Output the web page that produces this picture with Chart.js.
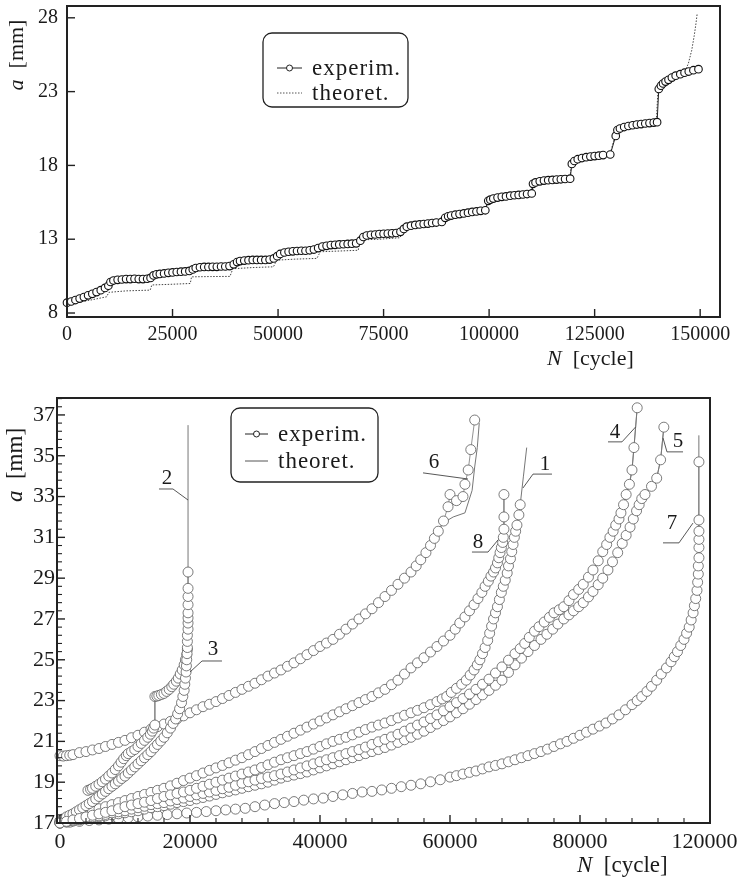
<!DOCTYPE html>
<html>
<head>
<meta charset="utf-8">
<script src="https://cdn.jsdelivr.net/npm/chart.js@4.4.0/dist/chart.umd.min.js"></script>
<style>
  html, body { margin: 0; padding: 0; background: #fff; }
  #wrap { position: relative; width: 740px; height: 878px; overflow: hidden; }
  #topChart { position: absolute; left: 0; top: 0; }
  #bottomChart { position: absolute; left: 0; top: 380px; }
</style>
</head>
<body>
<div id="wrap">
  <canvas id="topChart" width="740" height="375"></canvas>
  <canvas id="bottomChart" width="740" height="498"></canvas>
</div>
<script>
// ---- data : top chart (crack length a [mm] vs N [cycle]) ----
const legendNames = ['experim.', 'theoret.'];

const topXTicks = [0, 25000, 50000, 75000, 100000, 125000, 150000];
const topYTicks = [8, 13, 18, 23, 28];

const topExperim = [
  [0,8.7],[1000,8.78],[2000,8.88],[3000,8.98],[4000,9.08],[5000,9.2],[6000,9.3],[7000,9.42],[8000,9.55],[9000,9.7],
  [9800,9.85],[10300,10.1],[11000,10.2],[12000,10.25],[13000,10.27],[14000,10.3],[15000,10.3],[16000,10.32],[17000,10.3],
  [18000,10.3],[19000,10.32],[19800,10.38],[20500,10.55],[21200,10.62],[22000,10.65],[23000,10.68],[24000,10.72],
  [25000,10.75],[26000,10.78],[27000,10.8],[28000,10.82],[29000,10.85],[29800,10.95],[30500,11.05],[31500,11.1],
  [32500,11.12],[33500,11.12],[34500,11.13],[35500,11.13],[36500,11.15],[37500,11.15],[38500,11.18],[39500,11.3],
  [40300,11.45],[41000,11.52],[42000,11.55],[43000,11.58],[44000,11.6],[45000,11.6],[46000,11.6],[47000,11.6],
  [48000,11.62],[49000,11.7],[49800,11.85],[50500,12.0],[51500,12.1],[52500,12.15],[53500,12.18],[54500,12.2],
  [55500,12.22],[56500,12.22],[57500,12.25],[58500,12.3],[59500,12.4],[60500,12.5],[61500,12.55],[62500,12.6],
  [63500,12.62],[64500,12.65],[65500,12.66],[66500,12.68],[67500,12.7],[68500,12.72],[69500,12.9],[70200,13.15],
  [71000,13.25],[72000,13.3],[73000,13.32],[74000,13.35],[75000,13.37],[76000,13.38],[77000,13.4],[78000,13.42],
  [79000,13.5],[79800,13.7],[80500,13.85],[81500,13.92],[82500,13.97],[83500,14.0],[84500,14.03],[85500,14.06],
  [86500,14.1],[87500,14.13],[88800,14.17],[89600,14.45],[90300,14.55],[91000,14.6],[92000,14.66],[93000,14.7],
  [94000,14.75],[95000,14.8],[96000,14.85],[97000,14.88],[98000,14.92],[99100,14.96],[99800,15.6],[100300,15.68],
  [101000,15.75],[102000,15.82],[103000,15.87],[104000,15.9],[105000,15.95],[106000,15.98],[107000,16.0],
  [108000,16.03],[109000,16.06],[110100,16.1],[110400,16.75],[111000,16.85],[112000,16.92],[113000,16.97],
  [114000,17.0],[115000,17.02],[116000,17.04],[117000,17.06],[118000,17.08],[119200,17.1],[119600,18.1],
  [120200,18.3],[121000,18.42],[122000,18.5],[123000,18.56],[124000,18.6],[125000,18.63],[126000,18.66],
  [127000,18.7],[128700,18.74],[130000,20.0],[130400,20.4],[131000,20.5],[132000,20.6],[133000,20.67],
  [134000,20.72],[135000,20.77],[136000,20.8],[137000,20.84],[138000,20.87],[139000,20.9],[139800,20.93],
  [140200,23.18],[140700,23.4],[141200,23.55],[141800,23.68],[142500,23.8],[143300,23.95],[144200,24.08],
  [145300,24.18],[146300,24.28],[147300,24.36],[148400,24.45],[149600,24.52]
];

const topTheoret = [
  [0,8.6],[3000,8.75],[6000,8.9],[9400,9.1],[9900,9.4],[14000,9.5],[19700,9.55],[20100,9.9],[25000,9.95],
  [29200,10.0],[29500,10.45],[34000,10.47],[38600,10.48],[39300,11.0],[44000,11.08],[48900,11.13],[49700,11.58],
  [54000,11.65],[59200,11.7],[60000,12.15],[64500,12.2],[69000,12.25],[69400,12.95],[74000,13.0],[78900,13.1],
  [79600,13.6],[80400,13.8],[84500,13.98],[88900,14.12],[89500,14.45],[94000,14.7],[99000,14.92],[99700,15.55],
  [104000,15.85],[110000,16.05],[110300,16.7],[114000,16.95],[119100,17.05],[119500,18.05],[124000,18.55],
  [128600,18.7],[130100,20.3],[135000,20.72],[139600,20.9],[140000,23.1],[142500,23.75],[145300,24.2],
  [146500,24.45],[147200,24.9],[148000,25.8],[148600,26.8],[149000,27.6],[149300,28.3]
];

// ---- data : bottom chart (eight specimens 1..8) ----
const botXTicks = [0, 20000, 40000, 60000, 80000, 100000];
const botXTickLabels = ['0', '20000', '40000', '60000', '80000', '120000'];
const botYTicks = [17, 19, 21, 23, 25, 27, 29, 31, 33, 35, 37];

const curve1 = [
  [0,17.0],[1000,17.08],[2000,17.15],[3000,17.22],[4000,17.3],[5000,17.38],[6000,17.45],[7000,17.52],[8000,17.6],
  [9000,17.7],[10000,17.8],[11000,17.88],[12000,17.95],[13000,18.02],[14000,18.1],[15000,18.2],[16000,18.3],
  [17000,18.38],[18000,18.45],[19000,18.52],[20000,18.6],[21000,18.7],[22000,18.8],[23000,18.9],[24000,19.0],
  [25000,19.1],[26000,19.2],[27000,19.3],[28000,19.4],[29000,19.5],[30000,19.6],[31000,19.72],[32000,19.85],
  [33000,19.98],[34000,20.1],[35000,20.2],[36000,20.3],[37000,20.4],[38000,20.5],[39000,20.62],[40000,20.75],
  [41000,20.88],[42000,21.0],[43000,21.1],[44000,21.2],[45000,21.32],[46000,21.45],[47000,21.58],[48000,21.7],
  [49000,21.8],[50000,21.9],[51000,22.02],[52000,22.15],[53000,22.28],[54000,22.4],[55000,22.52],[56000,22.65],
  [57000,22.8],[58000,22.95],[58800,23.08],[59500,23.2],[60200,23.4],[61000,23.6],[61800,23.8],[62500,24.0],
  [63100,24.25],[63700,24.5],[64200,24.75],[64600,25.0],[65000,25.3],[65400,25.6],[65800,25.95],[66100,26.3],
  [66400,26.65],[66700,27.0],[67000,27.3],[67300,27.6],[67600,27.95],[67900,28.3],[68200,28.6],[68500,28.9],
  [68800,29.25],[69000,29.6],[69300,29.95],[69500,30.3],[69700,30.65],[69900,31.0],[70100,31.3],[70300,31.6],
  [70600,32.1],[70800,32.6]
];
const tail1 = [[71300,34.0],[71800,35.4]];

const curve2 = [
  [0,17.1],[500,17.2],[1000,17.3],[1500,17.38],[2000,17.45],[2500,17.55],[3000,17.65],[3500,17.75],[4000,17.85],
  [4500,17.95],[5000,18.05],[5500,18.18],[6000,18.3],[6500,18.42],[7000,18.55],[7500,18.68],[8000,18.8],[8500,18.92],
  [9000,19.05],[9500,19.18],[10000,19.3],[10500,19.45],[11000,19.6],[11500,19.75],[12000,19.9],[12500,20.05],
  [13000,20.2],[13500,20.35],[14000,20.5],[14500,20.68],[15000,20.85],[15500,21.02],[16000,21.2],[16500,21.42],
  [17000,21.65],[17400,21.88],[17800,22.1],[18100,22.35],[18400,22.6],[18700,22.9],[18900,23.2],[19100,23.5],
  [19200,23.8],[19300,24.1],[19400,24.4],[19450,24.7],[19500,25.0],[19550,25.3],[19600,25.6],[19600,25.9],
  [19600,26.2],[19700,26.5],[19700,26.8],[19700,27.05],[19700,27.3],[19700,27.7],[19700,28.1],[19700,28.5],[19700,29.3]
];
const tail2 = [[19700,36.5]];

const curve3 = [
  [4300,18.6],[4700,18.65],[5000,18.7],[5500,18.8],[6000,18.9],[6500,19.02],[7000,19.15],[7500,19.3],[8000,19.45],
  [8500,19.62],[9000,19.8],[9400,19.98],[9800,20.15],[10200,20.3],[10500,20.4],[11000,20.5],[11500,20.6],
  [12000,20.75],[12500,20.9],[13000,21.05],[13500,21.2],[13900,21.35],[14200,21.5],[14400,21.65],[14600,21.8],
  [14600,23.2],[14900,23.22],[15200,23.25],[15600,23.3],[16000,23.35],[16400,23.45],[16800,23.55],[17200,23.68],
  [17500,23.8],[17900,23.95],[18200,24.1],[18500,24.3],[18800,24.5],[19100,24.75],[19300,25.0],[19500,25.25],[19600,25.5]
];
const theo3 = [
  [4300,18.6],[7000,19.15],[9800,20.15],[12500,20.9],[14600,21.9],[14600,23.2],[17500,23.8],[19300,25.0],[19700,25.7]
];

const curve4 = [
  [0,17.0],[1000,17.05],[2000,17.1],[3000,17.18],[4000,17.25],[5000,17.3],[6000,17.35],[7000,17.42],[8000,17.5],
  [9000,17.55],[10000,17.6],[11000,17.68],[12000,17.75],[13000,17.82],[14000,17.9],[15000,17.95],[16000,18.0],
  [17000,18.08],[18000,18.15],[19000,18.22],[20000,18.3],[21000,18.38],[22000,18.45],[23000,18.52],[24000,18.6],
  [25000,18.68],[26000,18.75],[27000,18.85],[28000,18.95],[29000,19.02],[30000,19.1],[31000,19.18],[32000,19.25],
  [33000,19.32],[34000,19.4],[35000,19.5],[36000,19.6],[37000,19.7],[38000,19.8],[39000,19.9],[40000,20.0],
  [41000,20.1],[42000,20.2],[43000,20.3],[44000,20.4],[45000,20.5],[46000,20.6],[47000,20.72],[48000,20.85],
  [49000,20.98],[50000,21.1],[51000,21.22],[52000,21.35],[53000,21.5],[54000,21.65],[55000,21.8],[56000,21.95],
  [57000,22.12],[58000,22.3],[59000,22.5],[60000,22.7],[61000,22.9],[62000,23.1],[63000,23.32],[64000,23.55],
  [65000,23.8],[66000,24.05],[67000,24.35],[68000,24.65],[69000,24.98],[70000,25.3],[70800,25.55],[71500,25.8],
  [72200,26.1],[73000,26.4],[73700,26.62],[74500,26.85],[75300,27.08],[76000,27.3],[76800,27.45],[77500,27.6],
  [78300,27.9],[79000,28.2],[79800,28.45],[80500,28.7],[81300,29.05],[82000,29.4],[82800,29.85],[83500,30.3],
  [84100,30.65],[84600,31.0],[85100,31.3],[85500,31.6],[86000,31.9],[86300,32.2],[86700,32.6],[87100,33.1],
  [87600,33.6],[88000,34.3],[88300,35.4],[88800,37.35]
];

const curve5 = [
  [0,17.0],[1000,17.05],[2000,17.1],[3000,17.15],[4000,17.2],[5000,17.25],[6000,17.3],[7000,17.35],[8000,17.4],
  [9000,17.45],[10000,17.5],[11000,17.55],[12000,17.6],[13000,17.68],[14000,17.75],[15000,17.8],[16000,17.85],
  [17000,17.92],[18000,18.0],[19000,18.05],[20000,18.1],[21000,18.18],[22000,18.25],[23000,18.32],[24000,18.4],
  [25000,18.48],[26000,18.55],[27000,18.62],[28000,18.7],[29000,18.78],[30000,18.85],[31000,18.92],[32000,19.0],
  [33000,19.1],[34000,19.2],[35000,19.28],[36000,19.35],[37000,19.42],[38000,19.5],[39000,19.6],[40000,19.7],
  [41000,19.8],[42000,19.9],[43000,20.0],[44000,20.1],[45000,20.2],[46000,20.3],[47000,20.4],[48000,20.5],
  [49000,20.6],[50000,20.7],[51000,20.82],[52000,20.95],[53000,21.08],[54000,21.2],[55000,21.35],[56000,21.5],
  [57000,21.68],[58000,21.85],[59000,22.02],[60000,22.2],[61000,22.4],[62000,22.6],[63000,22.82],[64000,23.05],
  [65000,23.28],[66000,23.5],[67000,23.75],[68000,24.0],[69000,24.38],[70000,24.75],[71000,25.08],[72000,25.4],
  [73000,25.7],[74000,26.0],[74900,26.25],[75800,26.5],[76600,26.75],[77500,27.0],[78300,27.2],[79000,27.4],
  [79800,27.6],[80500,27.8],[81300,28.08],[82000,28.35],[82800,28.68],[83500,29.0],[84300,29.4],[85000,29.8],
  [85800,30.25],[86500,30.7],[87100,31.1],[87700,31.5],[88200,31.9],[88700,32.3],[89100,32.6],[89500,32.9],
  [90000,33.1],[91000,33.5],[91800,33.9],[92400,34.8],[92900,36.4]
];

const curve6 = [
  [0,20.3],[500,20.28],[1000,20.3],[1500,20.32],[2000,20.35],[3000,20.45],[4000,20.5],[5000,20.58],[6000,20.65],
  [7000,20.75],[8000,20.85],[9000,20.95],[10000,21.05],[11000,21.18],[12000,21.3],[13000,21.45],[14000,21.6],
  [15000,21.72],[16000,21.85],[17000,21.98],[18000,22.1],[19000,22.25],[20000,22.4],[21000,22.55],[22000,22.7],
  [23000,22.82],[24000,22.95],[25000,23.1],[26000,23.25],[27000,23.4],[28000,23.55],[29000,23.7],[30000,23.85],
  [31000,24.02],[32000,24.2],[33000,24.35],[34000,24.5],[35000,24.68],[36000,24.85],[37000,25.05],[38000,25.25],
  [39000,25.45],[40000,25.65],[41000,25.82],[42000,26.0],[43000,26.25],[44000,26.5],[45000,26.75],[46000,27.0],
  [47000,27.25],[48000,27.5],[49000,27.8],[50000,28.1],[51000,28.4],[52000,28.7],[53000,29.0],[54000,29.3],
  [54800,29.6],[55500,29.9],[56300,30.25],[57000,30.6],[57600,30.95],[58200,31.3],[59000,31.8],[59700,32.5],
  [60000,33.1],[61000,32.8],[62000,33.0],[62300,33.6],[62800,34.3],[63200,35.3],[63800,36.75]
];
const theo6 = [
  [0,20.3],[10000,21.05],[20000,22.4],[30000,23.85],[40000,25.65],[46000,27.0],[50000,28.1],[54000,29.3],
  [57000,30.6],[58900,31.7],[60500,32.0],[62300,32.2],[63400,33.3],[63800,34.45],[64200,35.4],[64500,36.6]
];

const curve7 = [
  [0,17.0],[1500,17.04],[3000,17.08],[4500,17.12],[6000,17.15],[7500,17.19],[9000,17.22],[10500,17.26],[12000,17.3],
  [13500,17.34],[15000,17.38],[16500,17.41],[18000,17.45],[19500,17.49],[21000,17.52],[22500,17.56],[24000,17.6],
  [25500,17.64],[27000,17.68],[28500,17.72],[30000,17.8],[31500,17.88],[33000,17.95],[34500,18.0],[36000,18.05],
  [37500,18.12],[39000,18.18],[40500,18.22],[42000,18.3],[43500,18.38],[45000,18.45],[46500,18.52],[48000,18.55],
  [49500,18.62],[51000,18.7],[52500,18.78],[54000,18.85],[55500,18.92],[57000,19.02],[58500,19.12],[60000,19.25],
  [61000,19.32],[62000,19.4],[63000,19.48],[64000,19.55],[65000,19.65],[66000,19.75],[67000,19.82],[68000,19.9],
  [69000,20.0],[70000,20.1],[71000,20.2],[72000,20.3],[73000,20.4],[74000,20.5],[75000,20.62],[76000,20.75],
  [77000,20.88],[78000,21.0],[79000,21.15],[80000,21.3],[81000,21.45],[82000,21.6],[83000,21.75],[84000,21.9],
  [85000,22.1],[86000,22.3],[87000,22.55],[88000,22.8],[88800,23.0],[89500,23.2],[90300,23.45],[91000,23.7],
  [91800,24.0],[92500,24.3],[93300,24.6],[94000,24.9],[94500,25.15],[95000,25.4],[95500,25.7],[96000,26.0],
  [96400,26.3],[96800,26.6],[97100,26.95],[97400,27.3],[97600,27.65],[97800,28.0],[98000,28.4],[98100,28.8],
  [98200,29.2],[98200,29.6],[98300,30.0],[98300,30.5],[98300,30.9],[98300,31.3],[98300,31.85],[98300,34.7]
];
const tail7 = [[98300,36.0]];

const curve8 = [
  [0,17.1],[1000,17.2],[2000,17.3],[3000,17.4],[4000,17.5],[5000,17.6],[6000,17.7],[7000,17.8],[8000,17.9],
  [9000,18.0],[10000,18.1],[11000,18.2],[12000,18.3],[13000,18.4],[14000,18.5],[15000,18.6],[16000,18.7],
  [17000,18.82],[18000,18.95],[19000,19.08],[20000,19.2],[21000,19.32],[22000,19.45],[23000,19.58],[24000,19.7],
  [25000,19.82],[26000,19.95],[27000,20.08],[28000,20.2],[29000,20.35],[30000,20.5],[31000,20.65],[32000,20.8],
  [33000,20.95],[34000,21.1],[35000,21.25],[36000,21.4],[37000,21.55],[38000,21.7],[39000,21.85],[40000,22.0],
  [41000,22.15],[42000,22.3],[43000,22.45],[44000,22.6],[45000,22.75],[46000,22.9],[47000,23.05],[48000,23.2],
  [49000,23.38],[50000,23.55],[51000,23.78],[52000,24.0],[53000,24.3],[54000,24.6],[55000,24.85],[56000,25.1],
  [57000,25.38],[58000,25.65],[59000,25.92],[60000,26.2],[60800,26.5],[61500,26.8],[62300,27.1],[63000,27.4],
  [63700,27.7],[64300,28.0],[64900,28.3],[65400,28.6],[65900,28.85],[66300,29.1],[66700,29.3],[67000,29.5],
  [67300,29.75],[67500,30.0],[67700,30.25],[67900,30.5],[68100,30.75],[68200,31.0],[68300,31.4],[68300,32.0],[68300,33.1]
];

// curve labels 1..8 : text position and leader line, in data units
const curveLabels = [
  { text: '2', at: [16460, 33.9], lead: [[15230, 33.37], [17380, 33.37], [19700, 32.83]] },
  { text: '3', at: [23540, 25.48], lead: [[24920, 24.94], [21850, 24.94], [20000, 24.4]] },
  { text: '6', at: [57540, 34.65], lead: [[55850, 34.16], [62770, 33.86]] },
  { text: '8', at: [64310, 30.73], lead: [[63380, 30.28], [65850, 30.28], [67380, 30.87]] },
  { text: '1', at: [74620, 34.55], lead: [[75690, 34.1], [72770, 34.1], [71230, 33.42]] },
  { text: '4', at: [85380, 36.12], lead: [[84310, 35.68], [86460, 35.68], [88560, 36.41]] },
  { text: '5', at: [95080, 35.68], lead: [[95850, 35.19], [93380, 35.19], [92770, 35.87]] },
  { text: '7', at: [94150, 31.7], lead: [[92770, 30.73], [95230, 30.73], [97380, 31.7]] }
];

const SERIF = '"Liberation Serif", "DejaVu Serif", serif';
const toXY = arr => arr.map(p => ({ x: p[0], y: p[1] }));

// draws text made of parts (some italic) starting at x
function drawParts(ctx, parts, x, y, size) {
  parts.forEach(p => {
    ctx.font = (p.italic ? 'italic ' : '') + size + 'px ' + SERIF;
    ctx.fillText(p.t, x, y);
    x += ctx.measureText(p.t).width;
  });
}
function partsWidth(ctx, parts, size) {
  let w = 0;
  parts.forEach(p => {
    ctx.font = (p.italic ? 'italic ' : '') + size + 'px ' + SERIF;
    w += ctx.measureText(p.t).width;
  });
  return w;
}

function drawLegend(ctx, L) {
  ctx.save();
  ctx.beginPath();
  ctx.roundRect(L.x, L.y, L.w, L.h, 9);
  ctx.fillStyle = '#fff';
  ctx.fill();
  ctx.lineWidth = 1.3;
  ctx.strokeStyle = '#222';
  ctx.stroke();
  legendNames.forEach((name, i) => {
    const base = L.rows[i];
    const my = base - 7;
    ctx.beginPath();
    ctx.setLineDash(i === 1 ? L.theoDash : []);
    ctx.lineWidth = 1;
    ctx.strokeStyle = i === 0 ? '#222' : '#555';
    ctx.moveTo(L.symX0, my);
    ctx.lineTo(L.symX1, my);
    ctx.stroke();
    ctx.setLineDash([]);
    if (i === 0) {
      ctx.beginPath();
      ctx.arc((L.symX0 + L.symX1) / 2, my, 3, 0, Math.PI * 2);
      ctx.fillStyle = '#fff';
      ctx.fill();
      ctx.stroke();
    }
    ctx.fillStyle = '#1a1a1a';
    ctx.font = L.size + 'px ' + SERIF;
    ctx.letterSpacing = '1px';
    ctx.textBaseline = 'alphabetic';
    ctx.textAlign = 'left';
    ctx.fillText(name, L.textX, base);
    ctx.letterSpacing = '0px';
  });
  ctx.restore();
}

// frame, inward ticks, legend, axis titles, curve labels
const paperPlugin = {
  id: 'paper',
  afterDraw(chart, args, o) {
    const ctx = chart.ctx, a = chart.chartArea;
    const xs = chart.scales.x, ys = chart.scales.y;
    ctx.save();
    ctx.strokeStyle = '#222';
    const line = (x1, y1, x2, y2) => { ctx.beginPath(); ctx.moveTo(x1, y1); ctx.lineTo(x2, y2); ctx.stroke(); };
    const isMajor = (ticks, v, eps) => ticks.some(t => Math.abs(t.value - v) < eps);

    ctx.lineWidth = 1.4;
    xs.ticks.forEach(t => { const x = xs.getPixelForValue(t.value); line(x, a.bottom, x, a.bottom - o.majorLen); });
    ys.ticks.forEach(t => { const y = ys.getPixelForValue(t.value); line(a.left, y, a.left + o.majorLen, y); });
    ctx.lineWidth = 1.1;
    if (o.minorX) {
      for (let i = 0; ; i++) {
        const v = i * o.minorX;
        if (v > xs.max) break;
        if (!isMajor(xs.ticks, v, 1)) { const x = xs.getPixelForValue(v); line(x, a.bottom, x, a.bottom - o.minorLen); }
      }
    }
    if (o.minorY) {
      for (let i = 0; ; i++) {
        const v = o.minorYStart + i * o.minorY;
        if (v > ys.max) break;
        if (!isMajor(ys.ticks, v, 0.01)) { const y = ys.getPixelForValue(v); line(a.left, y, a.left + o.minorLen, y); }
      }
    }
    ctx.lineWidth = 2;
    ctx.strokeRect(a.left, a.top, a.right - a.left, a.bottom - a.top);

    // curve labels
    if (o.labels) {
      ctx.lineWidth = 0.9;
      ctx.strokeStyle = '#444';
      o.labels.forEach(lb => {
        ctx.beginPath();
        lb.lead.forEach((p, k) => {
          const px = xs.getPixelForValue(p[0]), py = ys.getPixelForValue(p[1]);
          if (k === 0) ctx.moveTo(px, py); else ctx.lineTo(px, py);
        });
        ctx.stroke();
        ctx.fillStyle = '#1a1a1a';
        ctx.font = o.labelSize + 'px ' + SERIF;
        ctx.textAlign = 'center';
        ctx.textBaseline = 'middle';
        ctx.fillText(lb.text, xs.getPixelForValue(lb.at[0]), ys.getPixelForValue(lb.at[1]));
      });
    }

    drawLegend(ctx, o.legend);

    // axis titles
    ctx.fillStyle = '#1a1a1a';
    ctx.textAlign = 'left';
    ctx.textBaseline = 'middle';
    const yParts = [{ t: 'a', italic: true }, { t: '  [mm]' }];
    const yw = partsWidth(ctx, yParts, o.titleSize);
    ctx.save();
    ctx.translate(o.yTitle[0], o.yTitle[1]);
    ctx.rotate(-Math.PI / 2);
    drawParts(ctx, yParts, -yw / 2, 0, o.titleSize);
    ctx.restore();
    ctx.textBaseline = 'alphabetic';
    drawParts(ctx, [{ t: 'N', italic: true }, { t: '  [cycle]' }], o.xTitle[0], o.xTitle[1], o.titleSize);
    ctx.restore();
  }
};
Chart.register(paperPlugin);

// lastPad: an invisible en space after the last label keeps it inside the canvas
function axis(min, max, tickValues, tickLabels, fontSize, pad, fixedSize, horizontal, lastPad) {
  return {
    type: 'linear',
    min: min,
    max: max,
    grid: { display: false, drawTicks: false },
    border: { display: false },
    afterBuildTicks: s => { s.ticks = tickValues.map(v => ({ value: v })); },
    afterFit: s => {
      if (horizontal) s.height = fixedSize; else s.width = fixedSize;
      s.paddingLeft = 0; s.paddingRight = 0; s.paddingTop = 0; s.paddingBottom = 0;
    },
    ticks: {
      autoSkip: false,
      maxRotation: 0,
      padding: pad,
      color: '#1a1a1a',
      font: { family: SERIF, size: fontSize },
      callback: (v, i) => {
        const s = tickLabels ? tickLabels[i] : String(v);
        return (lastPad && i === tickValues.length - 1) ? s + '\u2002' : s;
      }
    }
  };
}

// ---- top chart ----
new Chart(document.getElementById('topChart'), {
  type: 'scatter',
  data: {
    datasets: [
      {
        label: legendNames[1], data: toXY(topTheoret), showLine: true, pointRadius: 0,
        borderColor: '#444', borderWidth: 1, borderDash: [1.5, 1.5], order: 2
      },
      {
        label: legendNames[0], data: toXY(topExperim), showLine: true, clip: false,
        borderColor: '#222', borderWidth: 1, pointRadius: 3.8, pointBackgroundColor: '#fff',
        pointBorderColor: '#111', pointBorderWidth: 1.1, order: 1
      }
    ]
  },
  options: {
    responsive: false,
    animation: false,
    devicePixelRatio: 1,
    layout: { padding: { left: 0, top: 6, right: 20, bottom: 0 } },
    plugins: {
      legend: { display: false },
      tooltip: { enabled: false },
      paper: {
        majorLen: 8, minorLen: 4,
        legend: { x: 263, y: 33, w: 145, h: 74, rows: [75, 100], symX0: 277, symX1: 302, textX: 312, size: 23, theoDash: [1.5, 1.5] },
        titleSize: 22, yTitle: [17, 55], xTitle: [547, 365]
      }
    },
    scales: {
      x: axis(0, 154700, topXTicks, null, 20, 6, 58, true, false),
      y: axis(7.73, 28.8, topYTicks, null, 20, 9, 67, false, false)
    }
  }
});

// ---- bottom chart ----
const botExp = [curve1, curve2, curve3, curve4, curve5, curve6, curve7, curve8];
const botTheo = [curve1.concat(tail1), curve2.concat(tail2), theo3, curve4, curve5, theo6, curve7.concat(tail7), curve8];
const botDatasets = [];
botTheo.forEach((c, i) => botDatasets.push({
  label: legendNames[1] + ' ' + (i + 1), data: toXY(c), showLine: true, pointRadius: 0,
  borderColor: '#666', borderWidth: 0.9, order: 2
}));
botExp.forEach((c, i) => botDatasets.push({
  label: legendNames[0] + ' ' + (i + 1), data: toXY(c), showLine: true, clip: false,
  borderColor: '#777', borderWidth: 0.8, pointRadius: 5, pointBackgroundColor: '#fff',
  pointBorderColor: '#5a5a5a', pointBorderWidth: 0.8, order: 1
}));

new Chart(document.getElementById('bottomChart'), {
  type: 'scatter',
  data: { datasets: botDatasets },
  options: {
    responsive: false,
    animation: false,
    devicePixelRatio: 1,
    layout: { padding: { left: 0, top: 18, right: 30, bottom: 0 } },
    plugins: {
      legend: { display: false },
      tooltip: { enabled: false },
      paper: {
        majorLen: 8, minorLen: 5, minorX: 4000, minorY: 0.4, minorYStart: 17,
        labels: curveLabels, labelSize: 21,
        legend: { x: 231, y: 28, w: 147, h: 74, rows: [61, 88], symX0: 245, symX1: 268, textX: 278, size: 23, theoDash: [] },
        titleSize: 23, yTitle: [16, 85], xTitle: [577, 492]
      }
    },
    scales: {
      x: axis(-460, 100000, botXTicks, botXTickLabels, 22, 6, 55, true, true),
      y: axis(17, 37.83, botYTicks, null, 22, 2, 57, false, false)
    }
  }
});
</script>
</body>
</html>
